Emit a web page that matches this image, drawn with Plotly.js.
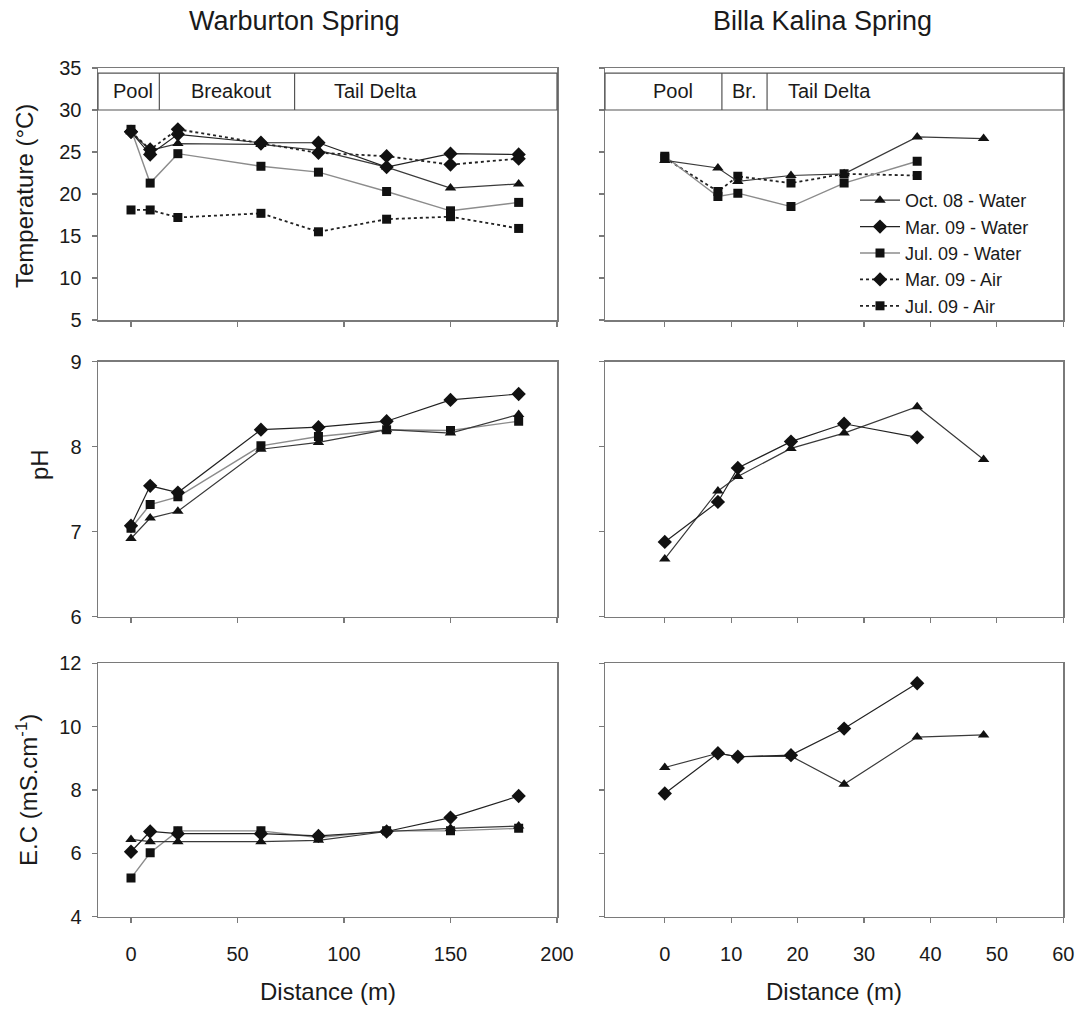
<!DOCTYPE html>
<html>
<head>
<meta charset="utf-8">
<script src="https://cdn.plot.ly/plotly-3.0.1.min.js"></script>
<style>
html,body{margin:0;padding:0;background:#fff;}
#chart{width:1084px;height:1010px;}
</style>
</head>
<body>
<div id="chart"></div>
<script>
// ---------- Data ----------
const warbDist = [0, 9, 22, 61, 88, 120, 150, 182];
const billaDist = [0, 8, 11, 19, 27, 38, 48];

// Temperature (°C)
const wTempOctWater = [27.4, 25.2, 26.0, 25.9, 25.2, 23.2, 20.7, 21.2];
const wTempMarWater = [27.4, 24.7, 27.1, 26.1, 26.1, 23.2, 24.8, 24.7];
const wTempJulWater = [27.7, 21.3, 24.8, 23.3, 22.6, 20.3, 18.0, 19.0];
const wTempMarAir   = [27.4, 25.3, 27.7, 26.0, 24.9, 24.5, 23.5, 24.2];
const wTempJulAir   = [18.1, 18.1, 17.2, 17.7, 15.5, 17.0, 17.3, 15.9];

const bTempOctWater = [24.0, 23.1, 21.5, 22.2, 22.4, 26.8, 26.6];
const bTempJulWater = [24.5, 19.7, 20.1, 18.5, 21.3, 23.9];
const bTempJulAir   = [24.3, 20.3, 22.1, 21.3, 22.4, 22.2];

// pH
const wPhOct = [6.92, 7.16, 7.24, 7.97, 8.05, 8.20, 8.16, 8.38];
const wPhMar = [7.07, 7.54, 7.46, 8.20, 8.23, 8.30, 8.55, 8.62];
const wPhJul = [7.04, 7.32, 7.41, 8.01, 8.12, 8.20, 8.19, 8.30];

const bPhOct = [6.68, 7.48, 7.65, 7.98, 8.16, 8.47, 7.85];
const bPhMar = [6.88, 7.35, 7.75, 8.06, 8.27, 8.11];

// E.C (mS.cm-1)
const wEcOct = [6.44, 6.37, 6.37, 6.37, 6.41, 6.69, 6.79, 6.86];
const wEcMar = [6.05, 6.69, 6.62, 6.62, 6.55, 6.69, 7.13, 7.81];
const wEcJul = [5.22, 6.02, 6.71, 6.71, 6.50, 6.71, 6.71, 6.79];

const bEcOct = [8.71, 9.16, 9.05, 9.07, 8.18, 9.67, 9.74];
const bEcMar = [7.89, 9.16, 9.05, 9.10, 9.94, 11.37];

// Zones
const warbZoneBounds = [13.3, 76.8];
const warbZoneLabels = ["Pool", "Breakout", "Tail Delta"];
const warbZoneLabelX = [1, 47, 115];
const billaZoneBounds = [8.6, 15.4];
const billaZoneLabels = ["Pool", "Br.", "Tail Delta"];
const billaZoneLabelX = [1.3, 11.9, 24.8];

const seriesNames = ["Oct. 08 - Water", "Mar. 09 - Water", "Jul. 09 - Water", "Mar. 09 - Air", "Jul. 09 - Air"];

// ---------- Styles ----------
const FONT = "Liberation Sans, Arial, Helvetica, sans-serif";
const styles = {
  oct:   {line:{color:"#3a3a3a", width:1.2}, marker:{symbol:"triangle-up", size:10, color:"#111"}},
  mar:   {line:{color:"#222", width:1.2}, marker:{symbol:"diamond", size:11, color:"#111"}},
  jul:   {line:{color:"#8c8c8c", width:1.4}, marker:{symbol:"square", size:9, color:"#111"}},
  marA:  {line:{color:"#222", width:1.8, dash:"dot"}, marker:{symbol:"diamond", size:11, color:"#111"}},
  julA:  {line:{color:"#222", width:1.8, dash:"dot"}, marker:{symbol:"square", size:9, color:"#111"}}
};

function tr(x, y, st, name, xa, ya, legend) {
  return {
    type: "scatter", mode: "lines+markers",
    x: x.slice(0, y.length), y: y,
    name: name, legendgroup: name, showlegend: !!legend,
    line: Object.assign({}, st.line), marker: Object.assign({}, st.marker),
    xaxis: xa, yaxis: ya, hoverinfo: "x+y+name"
  };
}

const traces = [
  // Top-left: temperature Warburton (legend owners)
  tr(warbDist, wTempOctWater, styles.oct, seriesNames[0], "x", "y", true),
  tr(warbDist, wTempMarWater, styles.mar, seriesNames[1], "x", "y", true),
  tr(warbDist, wTempJulWater, styles.jul, seriesNames[2], "x", "y", true),
  tr(warbDist, wTempMarAir, styles.marA, seriesNames[3], "x", "y", true),
  tr(warbDist, wTempJulAir, styles.julA, seriesNames[4], "x", "y", true),
  // Top-right: temperature Billa Kalina
  tr(billaDist, bTempJulAir, styles.julA, seriesNames[4], "x2", "y2"),
  tr(billaDist, bTempJulWater, styles.jul, seriesNames[2], "x2", "y2"),
  tr(billaDist, bTempOctWater, styles.oct, seriesNames[0], "x2", "y2"),
  // Middle-left: pH Warburton
  tr(warbDist, wPhJul, styles.jul, seriesNames[2], "x3", "y3"),
  tr(warbDist, wPhOct, styles.oct, seriesNames[0], "x3", "y3"),
  tr(warbDist, wPhMar, styles.mar, seriesNames[1], "x3", "y3"),
  // Middle-right: pH Billa
  tr(billaDist, bPhOct, styles.oct, seriesNames[0], "x4", "y4"),
  tr(billaDist, bPhMar, styles.mar, seriesNames[1], "x4", "y4"),
  // Bottom-left: EC Warburton
  tr(warbDist, wEcJul, styles.jul, seriesNames[2], "x5", "y5"),
  tr(warbDist, wEcOct, styles.oct, seriesNames[0], "x5", "y5"),
  tr(warbDist, wEcMar, styles.mar, seriesNames[1], "x5", "y5"),
  // Bottom-right: EC Billa
  tr(billaDist, bEcOct, styles.oct, seriesNames[0], "x6", "y6"),
  tr(billaDist, bEcMar, styles.mar, seriesNames[1], "x6", "y6")
];

// ---------- Layout ----------
const W = 1084, H = 1010;
const px = v => v / W, py = v => 1 - v / H;
const domL = [px(98), px(557)], domR = [px(605), px(1063.3)];
const domTop = [py(320), py(68)], domMid = [py(616.7), py(361.7)], domBot = [py(916.7), py(663.3)];

function axBase() {
  return {
    showline: true, mirror: true, linecolor: "#7a7a7a", linewidth: 1.5,
    ticks: "outside", ticklen: 5, tickwidth: 1.2, tickcolor: "#7a7a7a",
    showgrid: false, zeroline: false, fixedrange: true,
    tickfont: {family: FONT, size: 20, color: "#1a1a1a"}
  };
}
function xax(dom, range, dtick, anchor, labels) {
  return Object.assign(axBase(), {domain: dom, range: range, tick0: 0, dtick: dtick,
    anchor: anchor, showticklabels: labels, ticklabelstandoff: 14});
}
function yax(dom, range, dtick, anchor, labels) {
  return Object.assign(axBase(), {domain: dom, range: range, tick0: 0, dtick: dtick,
    anchor: anchor, showticklabels: labels, ticklabelstandoff: 6});
}

const shapes = [];
const annotations = [];

function zoneBox(xref, yref, bounds) {
  shapes.push({type: "rect", xref: xref + " domain", yref: yref, x0: 0, x1: 1, y0: 30, y1: 34.4,
    line: {color: "#555", width: 1.2}, fillcolor: "rgba(0,0,0,0)"});
  bounds.forEach(b => shapes.push({type: "line", xref: xref, yref: yref, x0: b, x1: b, y0: 30, y1: 34.4,
    line: {color: "#555", width: 1.2}}));
}
function zoneLabels(xref, yref, labels, xs) {
  labels.forEach((t, i) => annotations.push({xref: xref, yref: yref, x: xs[i], y: 32.25, text: t,
    showarrow: false, xanchor: "center", yanchor: "middle",
    font: {family: FONT, size: 20, color: "#1a1a1a"}}));
}
zoneBox("x", "y", warbZoneBounds);
zoneBox("x2", "y2", billaZoneBounds);
zoneLabels("x", "y", warbZoneLabels, warbZoneLabelX);
zoneLabels("x2", "y2", billaZoneLabels, billaZoneLabelX);

function paperText(text, x, y, size, angle) {
  annotations.push({xref: "paper", yref: "paper", x: x, y: y, text: text, showarrow: false,
    xanchor: "center", yanchor: "middle", textangle: angle || 0,
    font: {family: FONT, size: size, color: "#1a1a1a"}});
}
paperText("Warburton Spring", px(294), py(21), 27);
paperText("Billa Kalina Spring", px(822), py(21), 27);
paperText("Distance (m)", (domL[0] + domL[1]) / 2, py(991), 24);
paperText("Distance (m)", (domR[0] + domR[1]) / 2, py(991), 24);
paperText("Temperature (°C)", px(25), py(196), 24, -90);
paperText("pH", px(40), py(465), 24, -90);
paperText("E.C (mS.cm<sup>-1</sup>)", px(27), py(790), 24, -90);

const layout = {
  width: W, height: H,
  margin: {l: 0, r: 0, t: 0, b: 0},
  paper_bgcolor: "#fff", plot_bgcolor: "#fff",
  font: {family: FONT, color: "#1a1a1a"},
  showlegend: true,
  legend: {
    x: px(855), y: py(182), xanchor: "left", yanchor: "top",
    bgcolor: "rgba(255,255,255,0)", borderwidth: 0,
    font: {family: FONT, size: 18, color: "#1a1a1a"},
    itemwidth: 40, tracegroupgap: 0, traceorder: "normal"
  },
  xaxis:  xax(domL, [-15.5, 200], 50, "y", false),
  yaxis:  yax(domTop, [5, 35], 5, "x", true),
  xaxis2: xax(domR, [-9, 60], 10, "y2", false),
  yaxis2: yax(domTop, [5, 35], 5, "x2", false),
  xaxis3: xax(domL, [-15.5, 200], 50, "y3", false),
  yaxis3: yax(domMid, [6, 9], 1, "x3", true),
  xaxis4: xax(domR, [-9, 60], 10, "y4", false),
  yaxis4: yax(domMid, [6, 9], 1, "x4", false),
  xaxis5: xax(domL, [-15.5, 200], 50, "y5", true),
  yaxis5: yax(domBot, [4, 12], 2, "x5", true),
  xaxis6: xax(domR, [-9, 60], 10, "y6", true),
  yaxis6: yax(domBot, [4, 12], 2, "x6", false),
  shapes: shapes,
  annotations: annotations
};

Plotly.newPlot("chart", traces, layout, {displayModeBar: false, staticPlot: true});
</script>
</body>
</html>
